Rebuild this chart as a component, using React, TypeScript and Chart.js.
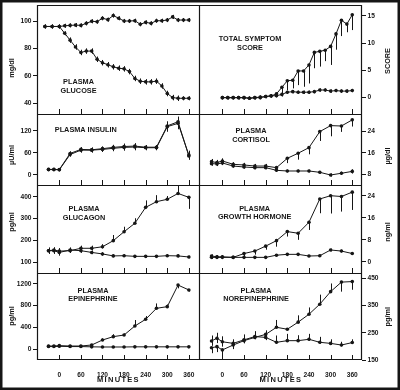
import React, { useEffect, useRef } from "react";
import { Chart, registerables } from "chart.js";

Chart.register(...registerables);

const FONT = '"Liberation Sans", Arial, Helvetica, sans-serif';
const INK = "#161616";

// ---- time points (minutes) ----
const T_GLUCOSE = [-40, -20, 0, 15, 30, 45, 60, 75, 90, 105, 120, 135, 150, 165, 180, 195, 210, 225, 240, 255, 270, 285, 300, 315, 330, 345, 360];
const T_SCORE = [0, 15, 30, 45, 60, 75, 90, 105, 120, 135, 150, 165, 180, 195, 210, 225, 240, 255, 270, 285, 300, 315, 330, 345, 360];
const T_HORMONE = [-30, -15, 0, 30, 60, 90, 120, 150, 180, 210, 240, 270, 300, 330, 360];
const X_TICKS = [0, 60, 120, 180, 240, 300, 360];

// ---- plasma glucose (mg/dl) ----
const GLU_TICKS = [40, 60, 80, 100];
const GLU_HYPO = [96, 96, 96, 91, 86, 81, 77, 78, 78, 72, 69.5, 68, 66.5, 65.5, 65, 63, 58, 56, 55.5, 55.5, 56, 52.5, 47, 44, 43.5, 43.5, 43.5];
const GLU_HYPO_ERR = [1.5, 1.5, 1.5, 1.5, 2, 2, 2, 2, 2, 2, 2, 2, 2, 2, 2, 2, 2, 2, 2, 2, 2, 2, 2, 2, 2, 1.5, 1.5];
const GLU_CTRL = [96, 96, 96, 96.5, 96.8, 97, 96.8, 98.3, 99.8, 99.5, 102, 101, 104, 102, 100, 100, 100.2, 97.6, 99, 98.3, 100.2, 100.2, 100.7, 103, 100.7, 100.7, 100.7];
const GLU_CTRL_ERR = [1.5, 1.5, 1.5, 1.5, 1.5, 1.5, 1.5, 1.5, 1.5, 1.5, 1.5, 1.5, 1.5, 1.5, 1.5, 1.5, 1.5, 1.5, 1.5, 1.5, 1.5, 1.5, 1.5, 1.5, 1.5, 1.5, 1.5];

// ---- total symptom score ----
const SCORE_TICKS = [0, 5, 10, 15];
const SCORE_HYPO = [0, 0, 0, 0, 0, -0.1, 0, 0.1, 0.2, 0.3, 0.7, 1.9, 3.1, 3.2, 4.9, 4.9, 6, 8.3, 8.5, 8.7, 9.4, 11.7, 14.2, 13.5, 15.2];
const SCORE_HYPO_HI = [0.3, 0.3, 0.3, 0.3, 0.3, 0.3, 0.3, 0.3, 0.3, 0.3, 0, 0, 0, 0, 0, 0, 0, 0, 0, 0, 0, 0, 0, 0, 0];
const SCORE_HYPO_LO = [0.3, 0.3, 0.3, 0.3, 0.3, 0.3, 0.3, 0.3, 0.3, 0.3, 0.5, 1.7, 1.7, 1.5, 2.6, 2.9, 3.4, 2.9, 2.8, 2.0, 3.4, 2.9, 2.9, 1.5, 2.8];
const SCORE_CTRL = [0, 0, 0, 0, 0, -0.1, 0, 0, 0.2, 0.35, 0.35, 0.6, 1.0, 1.1, 1.0, 1.0, 1.0, 1.1, 1.4, 1.4, 1.2, 1.3, 1.2, 1.2, 1.3];
const SCORE_CTRL_ERR = [0.3, 0.3, 0.3, 0.3, 0.3, 0.3, 0.3, 0.3, 0.3, 0.3, 0.3, 0.3, 0.3, 0.3, 0.3, 0.3, 0.3, 0.3, 0.3, 0.3, 0.3, 0.3, 0.3, 0.3, 0.3];

// ---- plasma insulin (µU/ml) ----
const INS_TICKS = [0, 60, 120];
const INS_HYPO = [14.5, 14.5, 13.6, 55, 67, 67, 69, 72, 74.5, 75.5, 73.6, 73.6, 131, 140, 53.6];
const INS_HYPO_ERR = [4, 4, 4, 6, 7, 7, 7, 8, 9, 9, 7, 7, 14, 16, 12];
const INS_CTRL = [14, 14, 14, 58, 69, 68, 71, 74.5, 77, 78, 75, 75, 133, 144.5, 51];
const INS_CTRL_ERR = [4, 4, 4, 6, 6, 6, 6, 7, 8, 8, 6, 6, 12, 14, 10];

// ---- plasma cortisol (µg/dl) ----
const CORT_TICKS = [8, 16, 24];
const CORT_HYPO = [12.75, 12.4, 13, 11.75, 11.5, 11.1, 11.1, 10.5, 14, 15.9, 18, 24, 26.25, 26.1, 28.4];
const CORT_HYPO_HI = [1, 1, 1, 0.8, 0.8, 0.8, 0.8, 0.6, 0, 0, 0, 0, 0, 0, 0];
const CORT_HYPO_LO = [1, 1, 1, 0.8, 0.8, 0.8, 0.8, 0.6, 1.8, 2.4, 2.5, 3.5, 4, 2.2, 2.5];
const CORT_CTRL = [12, 11.9, 12.25, 11.1, 10.75, 10.5, 10.5, 9.5, 9.25, 9.25, 9.25, 8.75, 7.75, 8.4, 9.1];
const CORT_CTRL_ERR = [0.8, 0.8, 0.8, 0.6, 0.6, 0.6, 0.6, 0.5, 0.5, 0.5, 0.5, 0.5, 0.6, 0.6, 0.8];

// ---- plasma glucagon (pg/ml) ----
const GCG_TICKS = [100, 200, 300, 400];
const GCG_HYPO = [152, 155, 150, 152, 163, 163, 170, 198, 239, 278, 351, 377, 388, 415, 397];
const GCG_HYPO_HI = [12, 12, 14, 10, 12, 12, 12, 26, 23, 23, 32, 30, 15, 45, 0];
const GCG_HYPO_LO = [12, 12, 14, 10, 10, 10, 8, 0, 0, 0, 0, 0, 0, 0, 53];
const GCG_CTRL = [152, 152, 144, 155, 152, 144, 137, 128, 129, 126, 126, 126, 129, 128, 123];
const GCG_CTRL_ERR = [15, 15, 15, 12, 10, 8, 8, 6, 6, 6, 6, 6, 6, 6, 6];

// ---- plasma growth hormone (ng/ml) ----
const GH_TICKS = [0, 8, 16, 24];
const GH_HYPO = [2.1, 1.8, 1.8, 1.6, 3, 3.9, 5.7, 7.7, 11, 10.4, 14.4, 22.9, 24.1, 23.8, 25.4];
const GH_HYPO_HI = [0.6, 0.6, 0.6, 0.5, 0, 0, 0, 0, 0, 0, 0, 0, 0, 0, 0];
const GH_HYPO_LO = [0.6, 0.6, 0.6, 0.5, 1, 1.3, 1.3, 2.2, 1.8, 2.4, 2.8, 5.2, 6.5, 5.5, 6.5];
const GH_CTRL = [1.6, 1.6, 1.6, 1.6, 1.6, 1.6, 1.6, 2.4, 2.7, 2.7, 2.1, 2.2, 4.3, 3.9, 3.0];
const GH_CTRL_ERR = [0.6, 0.6, 0.6, 0.5, 0.4, 0.4, 0.4, 0.4, 0.4, 0.4, 0.4, 0.4, 0.5, 0.5, 0.5];

// ---- plasma epinephrine (pg/ml) ----
const EPI_TICKS = [0, 400, 800, 1200];
const EPI_HYPO = [55, 55, 62, 55, 55, 74, 166, 228, 258, 425, 548, 751, 782, 1180, 1090];
const EPI_HYPO_HI = [15, 15, 15, 10, 10, 20, 30, 45, 30, 110, 60, 90, 40, 0, 0];
const EPI_HYPO_LO = [15, 15, 15, 10, 10, 0, 0, 0, 0, 0, 0, 0, 0, 60, 30];
const EPI_CTRL = [45, 45, 50, 45, 45, 40, 37, 37, 37, 40, 40, 40, 40, 40, 40];
const EPI_CTRL_ERR = [10, 10, 10, 8, 8, 8, 8, 8, 8, 8, 8, 8, 8, 8, 8];

// ---- plasma norepinephrine (pg/ml) ----
const NE_TICKS = [150, 250, 350, 450];
const NE_HYPO = [195, 199, 187, 205, 221, 233, 244, 270, 263, 289, 318, 355, 401, 436, 438];
const NE_HYPO_HI = [0, 0, 0, 0, 0, 0, 15, 27, 0, 25, 25, 35, 30, 0, 0];
const NE_HYPO_LO = [20, 20, 20, 15, 10, 0, 0, 0, 0, 0, 0, 0, 0, 35, 30];
const NE_CTRL = [220, 230, 217, 211, 224, 236, 233, 215, 221, 221, 226, 215, 211, 205, 214];
const NE_CTRL_HI = [20, 20, 20, 15, 20, 20, 20, 25, 25, 20, 20, 20, 15, 12, 12];
const NE_CTRL_LO = [18, 18, 18, 15, 10, 10, 10, 5, 5, 5, 5, 5, 5, 5, 5];

// ---- layout ----
const COL_L = [37, 200];
const COL_R = [200, 362];
const ROW_T = [5, 114, 185, 273];
const ROW_B = [114, 185, 273, 360];
const X_MIN = [-62, -62];
const X_MAX = [391, 387];
const X_AXIS_H = 30;

type Series = { t: number[]; v: number[]; hi: number[]; lo: number[] };
type PanelDef = {
  col: number;
  row: number;
  yMin: number;
  yMax: number;
  yTicks: number[];
  yTitle: string;
  titleY: number;
  label: string[];
  lx: number;
  ly: number;
  series: Series[];
  frame?: boolean;
};

const PANELS: PanelDef[] = [
  {
    col: 0, row: 0, yMin: 32, yMax: 111.7, yTicks: GLU_TICKS, yTitle: "mg/dl", titleY: 68,
    label: ["PLASMA", "GLUCOSE"], lx: 78.5, ly: 82.3, frame: true,
    series: [
      { t: T_GLUCOSE, v: GLU_HYPO, hi: GLU_HYPO_ERR, lo: GLU_HYPO_ERR },
      { t: T_GLUCOSE, v: GLU_CTRL, hi: GLU_CTRL_ERR, lo: GLU_CTRL_ERR },
    ],
  },
  {
    col: 1, row: 0, yMin: -3, yMax: 17, yTicks: SCORE_TICKS, yTitle: "SCORE", titleY: 61,
    label: ["TOTAL SYMPTOM", "SCORE"], lx: 250, ly: 39.3,
    series: [
      { t: T_SCORE, v: SCORE_HYPO, hi: SCORE_HYPO_HI, lo: SCORE_HYPO_LO },
      { t: T_SCORE, v: SCORE_CTRL, hi: SCORE_CTRL_ERR, lo: SCORE_CTRL_ERR },
    ],
  },
  {
    col: 0, row: 1, yMin: -28, yMax: 165.5, yTicks: INS_TICKS, yTitle: "µU/ml", titleY: 155,
    label: ["PLASMA INSULIN"], lx: 85.8, ly: 130.3,
    series: [
      { t: T_HORMONE, v: INS_HYPO, hi: INS_HYPO_ERR, lo: INS_HYPO_ERR },
      { t: T_HORMONE, v: INS_CTRL, hi: INS_CTRL_ERR, lo: INS_CTRL_ERR },
    ],
  },
  {
    col: 1, row: 1, yMin: 4, yMax: 30.6, yTicks: CORT_TICKS, yTitle: "µg/dl", titleY: 156,
    label: ["PLASMA", "CORTISOL"], lx: 251, ly: 131.2,
    series: [
      { t: T_HORMONE, v: CORT_HYPO, hi: CORT_HYPO_HI, lo: CORT_HYPO_LO },
      { t: T_HORMONE, v: CORT_CTRL, hi: CORT_CTRL_ERR, lo: CORT_CTRL_ERR },
    ],
  },
  {
    col: 0, row: 2, yMin: 49.5, yMax: 453.7, yTicks: GCG_TICKS, yTitle: "pg/ml", titleY: 222,
    label: ["PLASMA", "GLUCAGON"], lx: 84, ly: 209.3,
    series: [
      { t: T_HORMONE, v: GCG_HYPO, hi: GCG_HYPO_HI, lo: GCG_HYPO_LO },
      { t: T_HORMONE, v: GCG_CTRL, hi: GCG_CTRL_ERR, lo: GCG_CTRL_ERR },
    ],
  },
  {
    col: 1, row: 2, yMin: -4.1, yMax: 28, yTicks: GH_TICKS, yTitle: "ng/ml", titleY: 232,
    label: ["PLASMA", "GROWTH HORMONE"], lx: 254.6, ly: 208.8,
    series: [
      { t: T_HORMONE, v: GH_HYPO, hi: GH_HYPO_HI, lo: GH_HYPO_LO },
      { t: T_HORMONE, v: GH_CTRL, hi: GH_CTRL_ERR, lo: GH_CTRL_ERR },
    ],
  },
  {
    col: 0, row: 3, yMin: -203, yMax: 1403, yTicks: EPI_TICKS, yTitle: "pg/ml", titleY: 316,
    label: ["PLASMA", "EPINEPHRINE"], lx: 93, ly: 290.8,
    series: [
      { t: T_HORMONE, v: EPI_HYPO, hi: EPI_HYPO_HI, lo: EPI_HYPO_LO },
      { t: T_HORMONE, v: EPI_CTRL, hi: EPI_CTRL_ERR, lo: EPI_CTRL_ERR },
    ],
  },
  {
    col: 1, row: 3, yMin: 150, yMax: 469.5, yTicks: NE_TICKS, yTitle: "pg/ml", titleY: 316.7,
    label: ["PLASMA", "NOREPINEPHRINE"], lx: 256, ly: 290.5,
    series: [
      { t: T_HORMONE, v: NE_HYPO, hi: NE_HYPO_HI, lo: NE_HYPO_LO },
      { t: T_HORMONE, v: NE_CTRL, hi: NE_CTRL_HI, lo: NE_CTRL_LO },
    ],
  },
];

const tickFont = { family: FONT, size: 6.6, weight: "bold" as const };

function zeroPad(s: any) {
  s.paddingLeft = 0;
  s.paddingRight = 0;
  s.paddingTop = 0;
  s.paddingBottom = 0;
}

function makePlugin(p: PanelDef) {
  const left = p.col === 0;
  const bottomRow = p.row === 3;
  return {
    id: "panelDeco" + p.col + p.row,
    afterUpdate(chart: any) {
      const sx = chart.scales.x;
      if (sx && !sx.__patched) {
        const orig = sx.drawTitle.bind(sx);
        sx.drawTitle = function () {
          const c = this.ctx;
          c.save();
          try {
            c.letterSpacing = "1.3px";
          } catch (e) {}
          orig();
          c.restore();
        };
        sx.__patched = true;
      }
    },
    afterDatasetsDraw(chart: any) {
      const ctx = chart.ctx;
      const ys = chart.scales.y;
      ctx.save();
      ctx.strokeStyle = INK;
      ctx.lineWidth = 1;
      chart.data.datasets.forEach((_ds: any, di: number) => {
        const meta = chart.getDatasetMeta(di);
        const s = p.series[di];
        meta.data.forEach((pt: any, i: number) => {
          const v = s.v[i];
          const top = ys.getPixelForValue(v + s.hi[i]);
          const bot = ys.getPixelForValue(v - s.lo[i]);
          if (Math.abs(bot - top) < 0.5) return;
          const x = Math.round(pt.x) + 0.5;
          ctx.beginPath();
          ctx.moveTo(x, Math.max(top, chart.chartArea.top));
          ctx.lineTo(x, Math.min(bot, chart.chartArea.bottom));
          ctx.stroke();
        });
      });
      ctx.restore();
    },
    afterDraw(chart: any) {
      const ctx = chart.ctx;
      const a = chart.chartArea;
      const xs = chart.scales.x;
      ctx.save();
      ctx.strokeStyle = INK;
      ctx.lineWidth = 1.2;
      ctx.beginPath();
      // top edge
      ctx.moveTo(a.left, a.top + 0.5);
      ctx.lineTo(a.right, a.top + 0.5);
      // bottom edge (only last row; others share the next panel's top)
      if (bottomRow) {
        ctx.moveTo(a.left, a.bottom - 0.5);
        ctx.lineTo(a.right, a.bottom - 0.5);
      }
      // outer vertical edges, and the shared middle line from the left column
      if (left) {
        ctx.moveTo(a.left + 0.5, a.top);
        ctx.lineTo(a.left + 0.5, a.bottom);
        ctx.moveTo(a.right - 0.5, a.top);
        ctx.lineTo(a.right - 0.5, a.bottom);
      } else {
        ctx.moveTo(a.right - 0.5, a.top);
        ctx.lineTo(a.right - 0.5, a.bottom);
      }
      ctx.stroke();

      // inward x ticks
      ctx.lineWidth = 1;
      ctx.beginPath();
      for (const t of X_TICKS) {
        const x = Math.round(xs.getPixelForValue(t)) + 0.5;
        ctx.moveTo(x, a.bottom);
        ctx.lineTo(x, a.bottom - 5);
      }
      ctx.stroke();

      // panel label
      ctx.fillStyle = INK;
      ctx.font = `bold 7.3px ${FONT}`;
      ctx.textAlign = "center";
      ctx.textBaseline = "middle";
      p.label.forEach((line, i) => ctx.fillText(line, p.lx, p.ly + i * 8.4));

      // y-axis unit title, rotated to read bottom-to-top
      ctx.font = `bold 7.3px ${FONT}`;
      ctx.save();
      ctx.translate(left ? 12 : 388, p.titleY);
      ctx.rotate(-Math.PI / 2);
      ctx.fillText(p.yTitle, 0, 0);
      ctx.restore();

      // outer picture frame
      if (p.frame) {
        ctx.lineWidth = 2.5;
        ctx.strokeRect(1.25, 1.25, 400 - 2.5, 390 - 2.5);
      }
      ctx.restore();
    },
  };
}

function makeConfig(p: PanelDef): any {
  const left = p.col === 0;
  const bottomRow = p.row === 3;
  const l = COL_L[p.col];
  const r = COL_R[p.col];
  const t = ROW_T[p.row];
  const b = ROW_B[p.row];
  const yW = left ? l : 400 - r;
  return {
    type: "line",
    data: {
      datasets: p.series.map((s) => ({
        data: s.t.map((x, i) => ({ x, y: s.v[i] })),
        borderColor: INK,
        borderWidth: 1,
        pointRadius: 1.8,
        pointBackgroundColor: INK,
        pointBorderWidth: 0,
        pointStyle: "circle",
        tension: 0,
        fill: false,
      })),
    },
    options: {
      animation: false,
      responsive: false,
      events: [],
      layout: {
        padding: {
          left: left ? 0 : l,
          right: left ? 400 - r : 0,
          top: t,
          bottom: bottomRow ? 390 - b - X_AXIS_H : 390 - b,
        },
      },
      plugins: { legend: { display: false }, tooltip: { enabled: false } },
      scales: {
        x: {
          type: "linear",
          position: "bottom",
          min: X_MIN[p.col],
          max: X_MAX[p.col],
          afterBuildTicks: (s: any) => {
            s.ticks = X_TICKS.map((v) => ({ value: v }));
          },
          afterFit: (s: any) => {
            s.height = bottomRow ? X_AXIS_H : 0;
            zeroPad(s);
          },
          grid: { display: false },
          border: { display: false },
          ticks: {
            display: bottomRow,
            autoSkip: false,
            maxRotation: 0,
            padding: 3,
            color: INK,
            font: tickFont,
            callback: (v: any) => String(v),
          },
          title: {
            display: bottomRow,
            text: "MINUTES",
            color: INK,
            font: { family: FONT, size: 7.5, weight: "bold" },
            padding: { top: 0, bottom: 5.5 },
          },
        },
        y: {
          type: "linear",
          position: left ? "left" : "right",
          min: p.yMin,
          max: p.yMax,
          afterBuildTicks: (s: any) => {
            s.ticks = p.yTicks.map((v) => ({ value: v }));
          },
          afterFit: (s: any) => {
            s.width = yW;
            zeroPad(s);
          },
          grid: {
            display: true,
            drawOnChartArea: false,
            drawTicks: true,
            tickLength: 4,
            color: INK,
            lineWidth: 1,
          },
          border: { display: false },
          ticks: {
            autoSkip: false,
            padding: 1.5,
            color: INK,
            font: tickFont,
            callback: (v: any) => String(v),
          },
          title: { display: false },
        },
      },
    },
    plugins: [makePlugin(p)],
  };
}

function PanelChart({ p }: { p: PanelDef }) {
  const ref = useRef<HTMLCanvasElement | null>(null);
  useEffect(() => {
    if (!ref.current) return;
    const chart = new Chart(ref.current, makeConfig(p));
    return () => chart.destroy();
  }, [p]);
  return (
    <canvas
      ref={ref}
      width={400}
      height={390}
      style={{ position: "absolute", left: 0, top: 0, width: 400, height: 390 }}
    />
  );
}

export default function App() {
  return (
    <div
      style={{
        position: "absolute",
        left: 0,
        top: 0,
        width: 400,
        height: 390,
        background: "#ffffff",
        overflow: "hidden",
      }}
    >
      {PANELS.map((p, i) => (
        <PanelChart key={i} p={p} />
      ))}
    </div>
  );
}
